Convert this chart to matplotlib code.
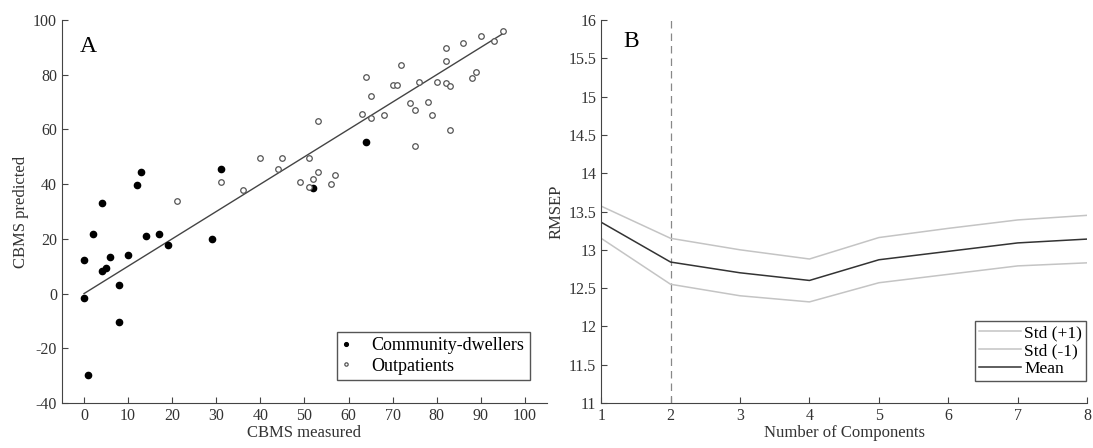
import numpy as np
import matplotlib
matplotlib.use('Agg')
from matplotlib import pyplot as plt

plt.rcParams['font.family'] = ['Liberation Serif', 'DejaVu Serif']
plt.rcParams['axes.unicode_minus'] = False

# panel A: measured vs predicted CBMS
comm_x = [0, 0, 1, 2, 4, 4, 5, 6, 8, 8, 10, 12, 13, 14, 17, 19, 29, 31, 52, 64]
comm_y = [12.1, -1.7, -29.8, 21.8, 33.1, 8.4, 9.4, 13.2, 3.1, -10.4, 14.1, 39.8,
          44.6, 21.0, 21.8, 17.9, 19.8, 45.4, 38.7, 55.5]

out_x = [21, 31, 36, 40, 45, 44, 51, 49, 51, 52, 53, 57, 56, 53, 63, 65, 64, 65,
         68, 72, 70, 71, 74, 75, 76, 78, 79, 80, 82, 82, 82, 83, 83, 86, 88, 89,
         90, 93, 95, 75]
out_y = [33.9, 40.7, 37.7, 49.6, 49.6, 45.5, 49.4, 40.6, 38.9, 41.8, 44.4, 43.5,
         40.1, 62.9, 65.8, 64.3, 79.3, 72.3, 65.4, 83.6, 76.3, 76.3, 69.7, 67.2,
         77.5, 69.9, 65.2, 77.2, 89.6, 85.1, 77.1, 75.9, 59.9, 91.6, 78.8, 81.0,
         94.2, 92.3, 96.0, 54.0]

fit_x = [0, 95]
fit_y = [0, 95]

# panel B: RMSEP vs number of components
n_comp = [1, 2, 3, 4, 5, 6, 7, 8]
rmsep_mean = [13.36, 12.84, 12.70, 12.60, 12.87, 12.98, 13.09, 13.14]
rmsep_up = [13.57, 13.15, 13.00, 12.88, 13.16, 13.28, 13.39, 13.45]
rmsep_lo = [13.15, 12.55, 12.40, 12.32, 12.57, 12.68, 12.79, 12.83]
best_n = 2

axcol = '#444444'
fs = 11.5
lfs = 12

fig = plt.figure(figsize=(10.93, 4.48), dpi=100)
ax1 = fig.add_axes([0.0567, 0.1004, 0.4437, 0.855])
ax2 = fig.add_axes([0.550, 0.1004, 0.4447, 0.855])

for ax in (ax1, ax2):
    ax.spines['top'].set_visible(False)
    ax.spines['right'].set_visible(False)
    ax.spines['left'].set_color(axcol)
    ax.spines['bottom'].set_color(axcol)
    ax.tick_params(direction='in', colors=axcol, labelcolor='#333333',
                   labelsize=fs, length=4)

'''
panel A
'''
ax1.plot(fit_x, fit_y, '-', color='#444444', linewidth=1)
ax1.plot(comm_x, comm_y, 'o', color='black', markersize=4.5,
         label='Community-dwellers', linestyle='none')
ax1.plot(out_x, out_y, 'o', markerfacecolor='white', markeredgecolor='#555555',
         markersize=4, markeredgewidth=0.9, label='Outpatients', linestyle='none')
ax1.set_xlim(-5, 105)
ax1.set_ylim(-40, 100)
ax1.set_xticks(np.arange(0, 101, 10))
ax1.set_yticks(np.arange(-40, 101, 20))
ax1.set_xlabel('CBMS measured', fontsize=lfs, color='#333333', labelpad=1)
ax1.set_ylabel('CBMS predicted', fontsize=lfs, color='#333333', labelpad=3)
ax1.text(0.037, 0.93, 'A', transform=ax1.transAxes, fontsize=17, va='center')
leg1 = ax1.legend(loc='lower right', bbox_to_anchor=(0.965, 0.06), fontsize=13,
                  fancybox=False, edgecolor='#555555', framealpha=1,
                  handlelength=0.4, handletextpad=1.2, borderpad=0.3,
                  borderaxespad=0, labelspacing=0.2, markerscale=0.6)
leg1.get_frame().set_linewidth(1)

'''
panel B
'''
ax2.axvline(best_n, color='#888888', linestyle=(0, (6, 4)), linewidth=0.9)
ax2.plot(n_comp, rmsep_up, '-', color='#c4c4c4', linewidth=1.1, label='Std (+1)')
ax2.plot(n_comp, rmsep_lo, '-', color='#c4c4c4', linewidth=1.1, label='Std (-1)')
ax2.plot(n_comp, rmsep_mean, '-', color='#333333', linewidth=1.1, label='Mean')
ax2.set_xlim(1, 8)
ax2.set_ylim(11, 16)
ax2.set_xticks(n_comp)
ax2.set_yticks(np.arange(11, 16.01, 0.5))
ax2.set_yticklabels(['11', '11.5', '12', '12.5', '13', '13.5', '14', '14.5',
                     '15', '15.5', '16'])
ax2.set_xlabel('Number of Components', fontsize=lfs, color='#333333', labelpad=1)
ax2.set_ylabel('RMSEP', fontsize=lfs, color='#333333', labelpad=3)
ax2.text(0.045, 0.945, 'B', transform=ax2.transAxes, fontsize=17, va='center')
leg2 = ax2.legend(loc='lower right', bbox_to_anchor=(0.998, 0.057), fontsize=12.5,
                  fancybox=False, edgecolor='#555555', framealpha=1,
                  handlelength=2.4, handletextpad=0.2, borderpad=0.25,
                  borderaxespad=0, labelspacing=0.1)
leg2.get_frame().set_linewidth(1)

fig.savefig('out.png', dpi=100)
